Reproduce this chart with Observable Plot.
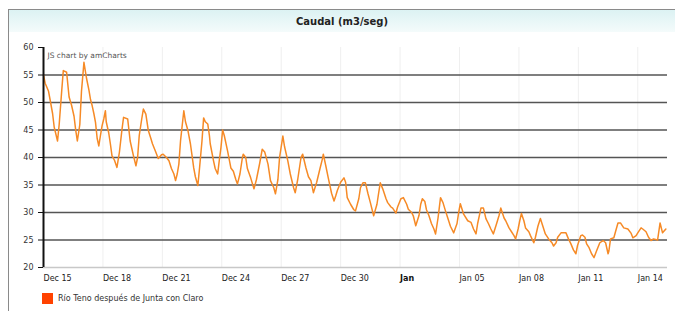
<!DOCTYPE html>
<html>
<head>
<meta charset="utf-8">
<script src="https://cdn.jsdelivr.net/npm/d3@7"></script>
<script src="https://cdn.jsdelivr.net/npm/@observablehq/plot@0.6"></script>
<style>
  html, body { margin: 0; padding: 0; background: #fff; }
  #page { position: relative; width: 675px; height: 311px; overflow: hidden; font-family: "DejaVu Sans", Verdana, sans-serif; }
  #frame { position: absolute; left: 8px; top: 9px; width: 700px; height: 320px; border-left: 1px solid #8a8a8a; border-top: 1px solid #8a8a8a; }
  #title { position: absolute; left: 9px; top: 10px; width: 666px; height: 22px; background: linear-gradient(#dcf2f3, #f4fbfb); text-align: center; font-size: 10px; font-weight: bold; color: #222; line-height: 23px; }
  #chart { position: absolute; left: 0; top: 31px; }
  #legend { position: absolute; left: 42px; top: 293px; height: 12px; }
  #legend .sw { position: absolute; left: 0; top: 0; width: 11px; height: 11px; background: #ff4200; }
  #legend .lb { position: absolute; left: 16px; top: 1px; font-size: 8px; color: #333; white-space: nowrap; }
</style>
</head>
<body>
<div id="page">
  <div id="frame"></div>
  <div id="title"></div>
  <div id="chart"></div>
  <div id="legend"><div class="sw"></div><div class="lb"></div></div>
</div>
<script>
// ---- data (hours since Dec 15 00:00, flow in m3/seg) ----
const titleText = "Caudal (m3/seg)";
const seriesName = "Río Teno después de Junta con Claro";
const creditText = "JS chart by amCharts";

const hours = [
  0,2,6,8,11,13,17,19,22,24,28,31,34,37,39,41,44,46,49,52,55,57,59,61,63,65,67,69,71,73,75,76,79,81,83,86,89,92,95,97,
  102,105,109,112,114,116,119,121,124,127,130,132,136,139,143,145,149,152,155,158,160,162,164,166,170,172,175,178,182,184,
  187,189,192,194,196,199,201,202,206,208,211,213,215,217,219,223,227,230,233,235,238,241,242,245,247,251,255,258,262,265,
  268,272,275,279,281,284,286,290,292,296,299,303,305,308,312,314,318,321,324,327,331,335,338,339,342,345,349,352,354,356,
  360,364,366,368,372,376,378,382,384,387,390,393,396,400,404,406,408,411,415,417,421,423,427,429,433,436,440,442,446,448,
  451,455,457,459,462,464,467,470,473,475,478,481,484,487,490,493,497,501,503,505,509,514,518,521,524,526,530,533,536,539,
  542,545,549,552,554,558,560,564,567,570,572,575,577,579,582,584,588,590,594,596,599,602,605,608,612,616,618,621,623,627,
  633,636,639,642,645,647,651,653,656,658,661,664,667,670,674,678,681,684,685,687,691,693,696,699,703,708,712,714,718,720,
  724,726,730,733,736,739,744,747,750,754
];
const flow = [
  55.0,53.5,52.1,50.5,48.0,45.5,43.0,46.0,52.0,55.8,55.5,51.0,49.5,47.5,45.0,43.0,46.0,52.0,57.3,54.5,52.3,50.5,49.4,48.0,46.4,43.5,42.1,44.0,45.8,47.0,48.5,46.5,44.5,42.5,40.3,39.5,38.2,41.0,45.0,47.3,
  47.0,43.0,40.3,38.5,40.0,44.0,47.0,48.8,47.9,44.9,43.5,42.5,41.0,39.8,40.5,40.6,40.0,39.4,38.0,37.0,35.8,37.0,38.8,43.0,48.5,46.5,44.9,42.5,38.1,36.5,
  34.9,38.0,43.0,47.2,46.5,46.1,44.0,42.5,39.4,38.0,37.0,39.5,41.8,45.0,44.0,41.2,38.1,37.5,36.0,35.2,37.0,40.0,40.6,40.0,38.0,36.3,34.3,36.0,39.0,41.5,
  41.0,38.8,35.8,34.5,33.4,36.0,40.0,43.9,42.0,39.4,37.0,34.5,33.6,36.0,40.0,40.6,38.1,36.5,35.8,33.6,35.5,38.0,39.8,40.6,38.5,36.3,33.5,32.1,33.0,34.0,
  35.5,36.3,35.5,32.7,31.5,30.5,30.3,32.5,34.5,35.4,35.4,33.5,31.8,29.4,31.5,33.5,35.4,34.3,32.5,31.8,31.0,30.8,29.9,31.0,32.5,32.7,31.5,30.6,30.0,29.4,
  27.6,29.5,31.5,32.5,32.0,30.5,29.4,28.0,27.0,26.1,29.0,32.7,31.8,30.3,28.9,27.5,26.3,28.0,30.0,31.6,29.7,28.5,28.2,27.0,26.1,28.0,30.8,30.8,28.9,28.0,
  27.0,26.1,28.0,29.5,30.8,29.0,28.5,27.2,26.5,25.8,25.2,27.0,28.5,29.8,28.5,27.2,26.5,25.8,24.5,25.5,27.5,28.9,27.5,26.1,25.2,24.5,23.9,24.5,25.5,26.3,
  26.3,25.2,24.3,23.2,22.5,24.0,25.8,25.9,25.5,24.3,23.6,22.5,21.8,23.0,24.5,24.9,24.5,22.5,23.0,25.2,25.4,26.5,28.1,28.1,27.2,27.0,26.2,25.4,25.8,26.3,
  27.2,27.0,26.5,25.5,24.9,25.2,25.0,28.1,26.3,27.0
];

const tickDays = [0, 3, 6, 9, 12, 15, 18, 21, 24, 27, 30];
const tickLabels = ["Dec 15", "Dec 18", "Dec 21", "Dec 24", "Dec 27", "Dec 30", "Jan", "Jan 05", "Jan 08", "Jan 11", "Jan 14"];
const boldLabels = ["Jan"];
const yTicks = [20, 25, 30, 35, 40, 45, 50, 55, 60];
const gridValues = [25, 30, 35, 40, 45, 50, 55];

// ---- build ----
const H = 3600 * 1000;
const start = Date.UTC(2013, 11, 15);
const end = start + 756 * H;
const data = hours.map((h, i) => ({date: new Date(start + h * H), value: flow[i]}));
const tickDates = tickDays.map(d => new Date(start + d * 24 * H));
const labelOf = d => tickLabels[tickDates.findIndex(t => +t === +d)];
const regularTicks = tickDates.filter(d => !boldLabels.includes(labelOf(d)));
const boldTicks = tickDates.filter(d => boldLabels.includes(labelOf(d)));

document.getElementById("title").textContent = titleText;
document.querySelector("#legend .lb").textContent = seriesName;

const chart = Plot.plot({
  width: 675,
  height: 255,
  marginTop: 16,
  marginBottom: 19,
  marginLeft: 43,
  marginRight: 8,
  x: {type: "utc", domain: [new Date(start), new Date(end)]},
  y: {domain: [20, 60]},
  style: {fontFamily: "DejaVu Sans, Verdana, sans-serif", fontSize: "8px", color: "#333", background: "transparent", overflow: "visible"},
  marks: [
    Plot.ruleX(tickDates.slice(1), {stroke: "#efefef", strokeWidth: 1}),
    Plot.ruleY(gridValues, {stroke: "#555", strokeWidth: 1.5}),
    Plot.ruleY([20], {stroke: "#c8c8c8", strokeWidth: 1.5}),
    Plot.line(data, {x: "date", y: "value", stroke: "#f68a26", strokeWidth: 1.5}),
    Plot.ruleX([new Date(start)], {stroke: "#111", strokeWidth: 2}),
    Plot.axisY({ticks: yTicks, tickSize: 5, tickPadding: 5, stroke: "#111", fill: "#333", label: null, tickFormat: d => String(d)}),
    Plot.axisX({ticks: regularTicks, tickSize: 0, tickPadding: 8, textAnchor: "start", fill: "#222", label: null, tickFormat: labelOf}),
    Plot.axisX({ticks: boldTicks, tickSize: 0, tickPadding: 8, textAnchor: "start", fill: "#111", fontWeight: "bold", label: null, tickFormat: labelOf}),
    Plot.text([creditText], {frameAnchor: "top-left", dx: 4, dy: 5, fontSize: 7.5, fill: "#555"})
  ]
});
document.getElementById("chart").appendChild(chart);
</script>
</body>
</html>
